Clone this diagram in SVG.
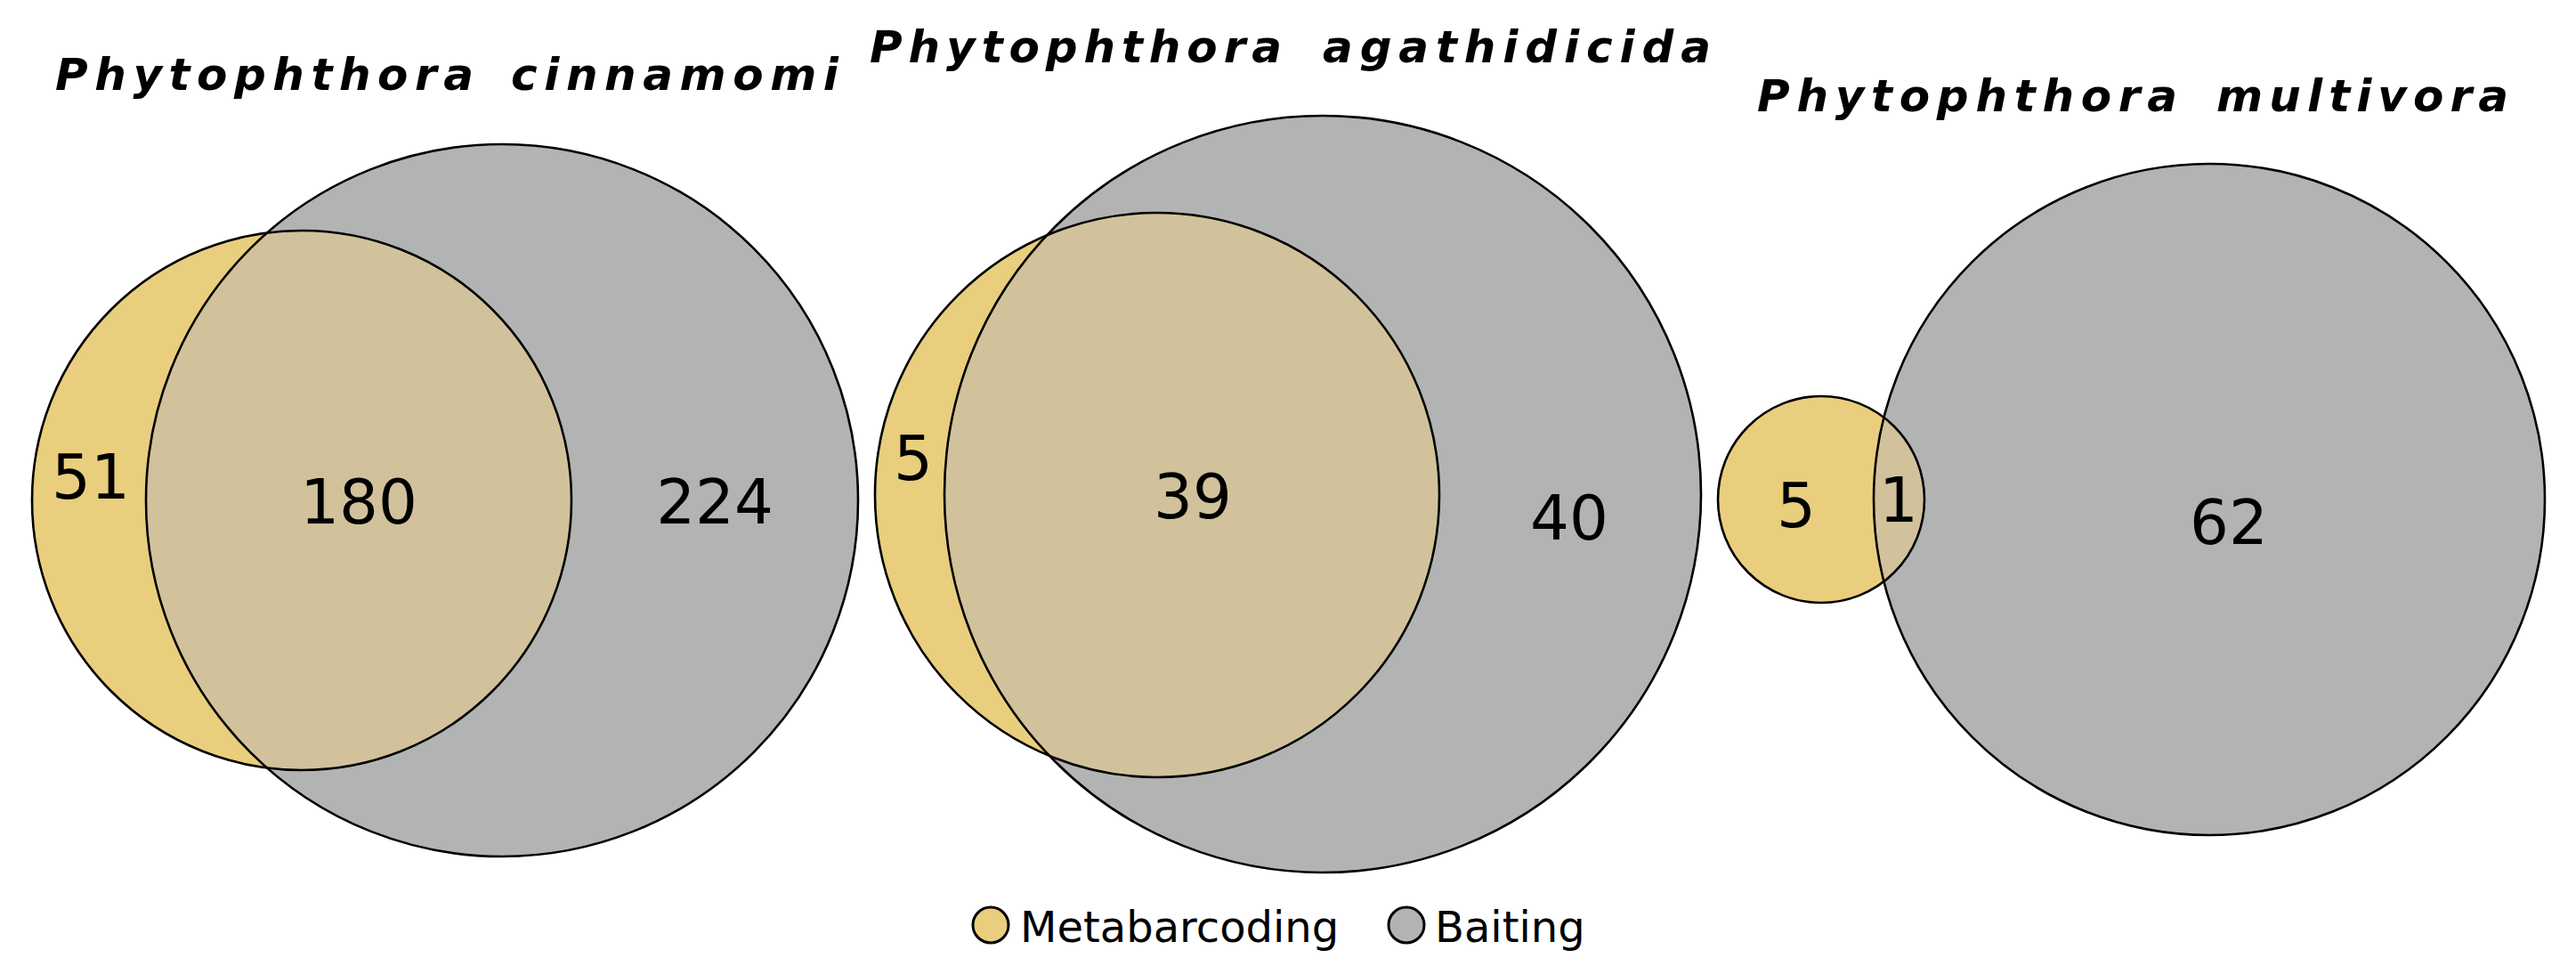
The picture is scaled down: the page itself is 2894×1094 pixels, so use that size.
<svg xmlns="http://www.w3.org/2000/svg" width="2894" height="1094" viewBox="0 0 2894 1094">
<style>
.bg{fill:#ffffff}
.gray{fill:#b2b4b4;stroke:none}
.yel{fill:#e9ce7d;stroke:none}
.ovl{fill:#d1c29b;stroke:none}
.edge{fill:none;stroke:#000;stroke-width:2.6}
.title{font-family:"DejaVu Sans",sans-serif;font-weight:bold;font-style:italic;font-size:50px;fill:#000}
.num{font-family:"DejaVu Sans",sans-serif;font-size:69px;fill:#000;text-anchor:middle}
.leg{font-family:"DejaVu Sans",sans-serif;font-size:48px;fill:#000}
</style>
<defs>
<clipPath id="c1"><circle cx="339" cy="562" r="303"/></clipPath>
<clipPath id="c2"><circle cx="1300" cy="556" r="317"/></clipPath>
<clipPath id="c3"><circle cx="2046" cy="561" r="116"/></clipPath>
</defs>
<rect class="bg" x="0" y="0" width="2894" height="1094"/>

<g id="venn-cinnamomi">
<text class="title" y="101"><tspan x="62" textLength="470" lengthAdjust="spacing">Phytophthora</tspan> <tspan x="574" textLength="368" lengthAdjust="spacing">cinnamomi</tspan></text>
<circle class="yel" cx="339" cy="562" r="303"/>
<circle class="gray" cx="564" cy="562" r="400"/>
<circle class="ovl" cx="564" cy="562" r="400" clip-path="url(#c1)"/>
<circle class="edge" cx="564" cy="562" r="400"/>
<circle class="edge" cx="339" cy="562" r="303"/>
<text class="num" x="102" y="560">51</text>
<text class="num" x="403" y="588">180</text>
<text class="num" x="803" y="588">224</text>
</g>

<g id="venn-agathidicida">
<text class="title" y="70"><tspan x="977" textLength="463" lengthAdjust="spacing">Phytophthora</tspan> <tspan x="1486" textLength="436" lengthAdjust="spacing">agathidicida</tspan></text>
<circle class="yel" cx="1300" cy="556" r="317"/>
<circle class="gray" cx="1486" cy="555" r="425"/>
<circle class="ovl" cx="1486" cy="555" r="425" clip-path="url(#c2)"/>
<circle class="edge" cx="1486" cy="555" r="425"/>
<circle class="edge" cx="1300" cy="556" r="317"/>
<text class="num" x="1026" y="539">5</text>
<text class="num" x="1340" y="582">39</text>
<text class="num" x="1763" y="606">40</text>
</g>

<g id="venn-multivora">
<text class="title" y="125"><tspan x="1974" textLength="472" lengthAdjust="spacing">Phytophthora</tspan> <tspan x="2490" textLength="328" lengthAdjust="spacing">multivora</tspan></text>
<circle class="yel" cx="2046" cy="561" r="116"/>
<circle class="gray" cx="2482" cy="561" r="377"/>
<circle class="ovl" cx="2482" cy="561" r="377" clip-path="url(#c3)"/>
<circle class="edge" cx="2482" cy="561" r="377"/>
<circle class="edge" cx="2046" cy="561" r="116"/>
<text class="num" x="2018" y="592">5</text>
<text class="num" x="2133" y="586">1</text>
<text class="num" x="2504" y="611">62</text>
</g>

<g id="legend">
<circle cx="1113" cy="1039" r="20" fill="#e9ce7d" stroke="#000" stroke-width="3"/>
<text class="leg" x="1146" y="1058">Metabarcoding</text>
<circle cx="1580" cy="1039" r="20" fill="#b2b4b4" stroke="#000" stroke-width="3"/>
<text class="leg" x="1612" y="1058">Baiting</text>
</g>

<g id="connectors"></g>
</svg>
